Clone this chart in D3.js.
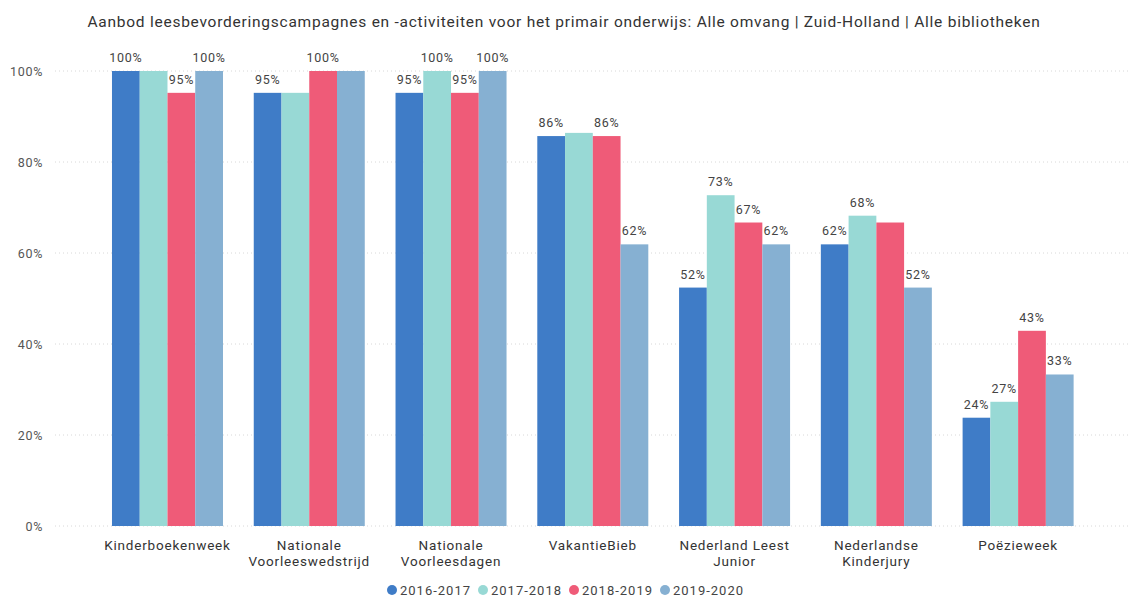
<!DOCTYPE html>
<html><head><meta charset="utf-8">
<script src="https://cdn.jsdelivr.net/npm/d3@7"></script>
<style>body{margin:0;background:#fff;} text{font-family:Roboto,"DejaVu Sans",sans-serif;}</style>
</head><body>
<svg id="c" width="1128" height="601"></svg>
<script>
const categories = [["Kinderboekenweek"],["Nationale","Voorleeswedstrijd"],["Nationale","Voorleesdagen"],["VakantieBieb"],["Nederland Leest","Junior"],["Nederlandse","Kinderjury"],["Poëzieweek"]];
const seriesNames = ["2016-2017","2017-2018","2018-2019","2019-2020"];
const s2016 = [100, 95.2, 95.2, 85.7, 52.4, 61.9, 23.8];
const s2017 = [100, 95.2, 100, 86.4, 72.7, 68.2, 27.3];
const s2018 = [95.2, 100, 95.2, 85.7, 66.7, 66.7, 42.9];
const s2019 = [100, 100, 100, 61.9, 61.9, 52.4, 33.3];
// which data labels are visible in the reference (overlap-hidden ones false)
const showLabel = [
  [true,true,true,true,true,true,true],
  [false,false,true,false,true,true,true],
  [true,true,true,true,true,false,true],
  [true,false,true,true,true,true,true]
];
const yTicks = [0,20,40,60,80,100];
const colors = ["#3f7cc7","#98d9d5","#ef5b78","#86b0d2"];
const title = "Aanbod leesbevorderingscampagnes en -activiteiten voor het primair onderwijs: Alle omvang | Zuid-Holland | Alle bibliotheken";

const series = [s2016,s2017,s2018,s2019];
const svg = d3.select("#c");
const x0 = d3.scaleBand().domain(d3.range(categories.length)).range([96.6,1089]).paddingInner(0.217).paddingOuter(0.1085);
const x1 = d3.scaleBand().domain(d3.range(seriesNames.length)).range([0,x0.bandwidth()]);
const y = d3.scaleLinear().domain([0,100]).range([526,71]);

svg.append("text").attr("x",564).attr("y",27).attr("text-anchor","middle").attr("font-size",15.5)
  .attr("letter-spacing",0.75).attr("fill","#333").text(title);

// grid
const yAxis = d3.axisLeft(y).tickValues(yTicks).tickFormat(d=>d+"%").tickSize(0).tickPadding(0);
const ga = svg.append("g").attr("transform","translate(43,0)").call(yAxis);
ga.select(".domain").remove();
ga.selectAll("text").attr("font-size",12.5).attr("letter-spacing",0.7).attr("fill","#555").attr("dy","0.32em");
svg.append("g").selectAll("line").data(yTicks).join("line")
  .attr("x1",55).attr("x2",1128).attr("y1",d=>y(d)).attr("y2",d=>y(d))
  .attr("stroke","#d8d8d8").attr("stroke-dasharray","1,3");

// bars
series.forEach((s,si)=>{
  const g = svg.append("g");
  g.selectAll("rect").data(s).join("rect")
    .attr("x",(d,i)=>x0(i)+x1(si)).attr("width",x1.bandwidth())
    .attr("y",d=>y(d)).attr("height",d=>y(0)-y(d)).attr("fill",colors[si]);
  g.selectAll("text").data(s.map((d,i)=>({d,i})).filter(o=>showLabel[si][o.i])).join("text")
    .attr("x",o=>x0(o.i)+x1(si)+x1.bandwidth()/2).attr("y",o=>y(o.d)-9)
    .attr("text-anchor","middle").attr("font-size",12.5).attr("letter-spacing",0.7).attr("fill","#444")
    .text(o=>Math.round(o.d)+"%");
});

// x axis labels
const xAxis = d3.axisBottom(x0).tickSize(0).tickFormat("");
const gx = svg.append("g").attr("transform","translate(0,526)").call(xAxis);
gx.select(".domain").remove();
const lab = svg.append("g").selectAll("text").data(categories).join("text")
  .attr("x",(d,i)=>x0(i)+x0.bandwidth()/2).attr("y",550)
  .attr("text-anchor","middle").attr("font-size",13.5).attr("letter-spacing",0.8).attr("fill","#333");
lab.selectAll("tspan").data(d=>d).join("tspan")
  .attr("x",function(){return this.parentNode.getAttribute("x");})
  .attr("dy",(d,i)=>i===0?0:16).text(d=>d);

// legend
const leg = svg.append("g");
const legX = [392,483,574,665];
seriesNames.forEach((n,i)=>{
  leg.append("circle").attr("cx",legX[i]).attr("cy",590).attr("r",5).attr("fill",colors[i]);
  leg.append("text").attr("x",legX[i]+8).attr("y",590).attr("dy","0.35em").attr("font-size",13)
    .attr("letter-spacing",1).attr("fill","#444").text(n);
});
</script>
</body></html>
